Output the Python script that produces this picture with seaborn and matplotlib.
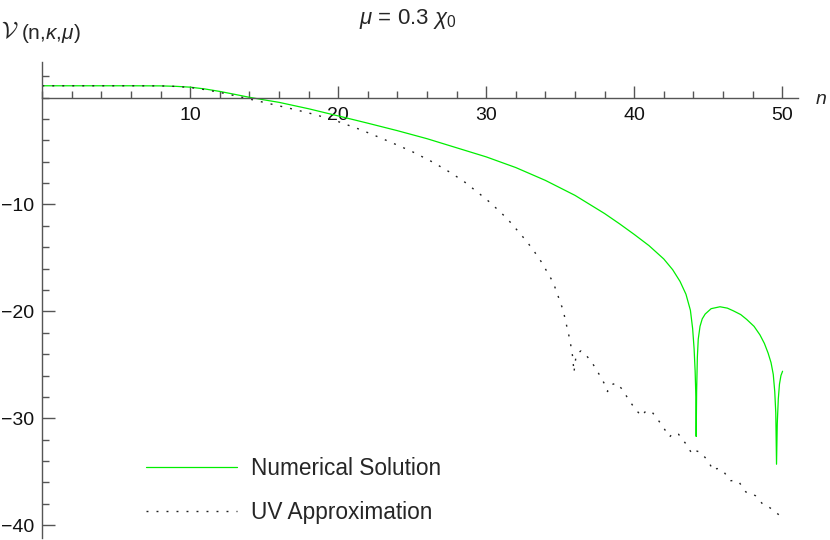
import matplotlib
matplotlib.use("Agg")
import matplotlib.pyplot as plt
import seaborn as sns
import pandas as pd
from matplotlib.ticker import FixedLocator, MultipleLocator

# ---- data ----
n_numerical = [0, 2, 4, 6, 8, 9, 10, 11, 12, 13, 14, 15, 16, 18, 20, 22, 24, 26, 28, 30,
               32, 34, 36, 38, 39, 40, 41, 42, 42.6, 43.1, 43.5, 43.8, 43.95, 44.05,
               44.12, 44.17, 44.19, 44.22, 44.27, 44.33, 44.45, 44.6, 44.8, 45.2, 45.8,
               46.3, 46.7, 47.2, 47.6, 48.1, 48.5, 48.8, 49.05, 49.25, 49.4, 49.5, 49.57,
               49.62, 49.67, 49.74, 49.82, 49.92, 50.03]
v_numerical = [1.10, 1.10, 1.10, 1.10, 1.09, 1.05, 0.97, 0.80, 0.57, 0.30, 0.02, -0.22,
               -0.45, -1.05, -1.72, -2.40, -3.10, -3.85, -4.70, -5.55, -6.55, -7.75, -9.15,
               -10.85, -11.8, -12.8, -13.85, -15.1, -16.1, -17.2, -18.4, -19.9, -21.6,
               -23.5, -25.6, -28.0, -31.7, -27.5, -24.3, -22.6, -21.4, -20.7, -20.25,
               -19.75, -19.57, -19.7, -19.95, -20.3, -20.75, -21.4, -22.2, -23.0, -23.9,
               -24.8, -25.9, -27.5, -29.5, -34.3, -30.5, -28.2, -26.8, -26.0, -25.6]

n_uv = [0, 2, 4, 6, 8, 9, 10, 11, 12, 13, 14, 15, 16, 17, 18.5, 20, 21.5, 22.8, 24, 25,
        26.4, 27.5, 28.45, 29.5, 30.25, 31.4, 32.4, 33.1, 33.74, 34.53, 35.2, 35.66,
        35.85, 35.93, 36.05, 36.2, 36.4, 36.7, 37.2, 37.68, 38.0, 38.2, 38.4, 38.8, 39.2,
        39.6, 40.05, 40.5, 40.8, 41.2, 41.8, 42.4, 42.6, 43.0, 43.5, 43.9, 44.1, 44.5,
        45.0, 45.35, 45.6, 46.0, 46.5, 46.8, 47.1, 47.55, 47.9, 48.2, 48.7, 49.0, 49.2,
        49.8]
v_uv = [1.10, 1.10, 1.10, 1.10, 1.09, 1.04, 0.94, 0.74, 0.48, 0.18, -0.14, -0.46, -0.78,
        -1.10, -1.62, -2.25, -3.0, -3.74, -4.45, -5.06, -6.05, -6.95, -7.8, -8.95, -9.8,
        -11.3, -12.9, -14.1, -15.4, -17.3, -19.9, -22.7, -24.3, -25.7, -24.4, -23.9,
        -23.7, -24.0, -24.9, -26.0, -26.8, -27.5, -26.9, -26.7, -27.3, -28.2, -29.1,
        -29.8, -29.3, -29.4, -30.5, -31.75, -31.4, -31.5, -32.4, -33.3, -33.0, -33.2,
        -34.0, -34.9, -34.7, -34.9, -35.85, -35.8, -36.0, -36.9, -37.0, -37.25, -38.05,
        -38.2, -38.4, -39.05]

x_major_ticks = [10, 20, 30, 40, 50]
y_major_ticks = [-10, -20, -30, -40]
series_labels = ["Numerical Solution", "UV Approximation"]

# ---- style ----
sns.set_style("white")
plt.rcParams["font.family"] = ["Liberation Sans", "DejaVu Sans"]
plt.rcParams["mathtext.fontset"] = "custom"
plt.rcParams["mathtext.rm"] = "Liberation Sans"
plt.rcParams["mathtext.it"] = "Liberation Sans:italic"
plt.rcParams["mathtext.bf"] = "Liberation Sans:bold"

fig = plt.figure(figsize=(8.3, 5.4), dpi=100)
ax = fig.add_axes([0.05096, 0.0037, 0.9101, 0.8820])

df_num = pd.DataFrame({"n": n_numerical, "V": v_numerical})
df_uv = pd.DataFrame({"n": n_uv, "V": v_uv})

sns.lineplot(data=df_num, x="n", y="V", ax=ax, color="#00ee00", lw=0.9,
             label=series_labels[0], sort=False, estimator=None)
sns.lineplot(data=df_uv, x="n", y="V", ax=ax, color="#222222", lw=1.0,
             linestyle=(0, (1.4, 5.8)), label=series_labels[1], sort=False,
             estimator=None)

ax.set_xlim(0, 51.05)
ax.set_ylim(-41.2, 3.35)

for s in ["top", "right"]:
    ax.spines[s].set_visible(False)
for s in ["left", "bottom"]:
    ax.spines[s].set_position(("data", 0))
    ax.spines[s].set_color("#555555")
    ax.spines[s].set_linewidth(1.0)

ax.xaxis.set_major_locator(FixedLocator(x_major_ticks))
ax.xaxis.set_minor_locator(MultipleLocator(2))
ax.yaxis.set_major_locator(FixedLocator(y_major_ticks))
ax.yaxis.set_minor_locator(MultipleLocator(2))
ax.set_xticklabels([str(t) for t in x_major_ticks])
ax.set_yticklabels(["\u2212" + str(-t) for t in y_major_ticks])

ax.tick_params(which="both", bottom=True, left=True, top=False, right=False)
ax.tick_params(which="major", direction="in", length=9, width=1.0, color="#555555",
               labelsize=14, labelcolor="#111111")
ax.tick_params(which="minor", direction="in", length=5, width=1.0, color="#555555")
ax.tick_params(axis="x", which="major", pad=7)
ax.tick_params(axis="y", which="major", pad=6)
ax.set_xlabel("")
ax.set_ylabel("")

leg = ax.legend(loc="upper left", bbox_to_anchor=(146 / 830, 1 - 457 / 540),
                bbox_transform=fig.transFigure, frameon=False, fontsize=16.3,
                handlelength=4.03, handletextpad=0.59, labelspacing=0.93,
                borderpad=0, borderaxespad=0)

# ---- texts ----
fig.text(408 / 830, 1 - 19 / 540, r"$\mu$ = 0.3 $\chi_0$", ha="center", va="center",
         fontsize=16)
fig.text(1 / 830, 1 - 38 / 540, r"$\mathcal{V}$", ha="left", va="baseline",
         fontsize=17, math_fontfamily="cm")
fig.text(21 / 830, 1 - 39 / 540, r"(n,$\kappa$,$\mu$)", ha="left", va="baseline",
         fontsize=15)
fig.text(821 / 830, 1 - 99 / 540, "n", ha="center", va="center", fontsize=14,
         style="italic")

fig.savefig("out.png", dpi=100)
